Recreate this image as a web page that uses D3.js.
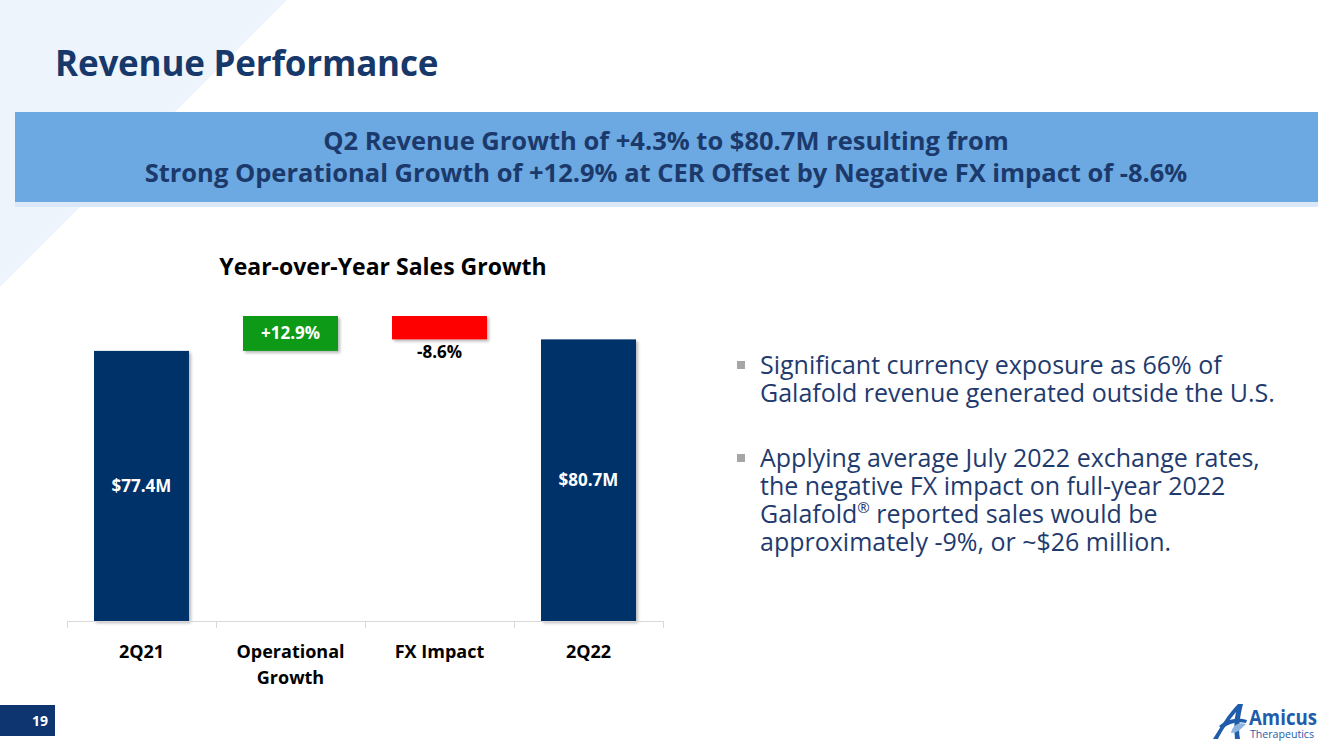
<!DOCTYPE html>
<html>
<head>
<meta charset="utf-8">
<script src="https://cdn.jsdelivr.net/npm/d3@7/dist/d3.min.js"></script>
<style>
  html, body { margin: 0; padding: 0; background: #fff; }
  svg { display: block; }
  text { font-family: "Open Sans", "Noto Sans", sans-serif; }
</style>
</head>
<body>
<script>
// ---------- data ----------
const categories = ["2Q21", "Operational\nGrowth", "FX Impact", "2Q22"];
const stepStart  = [0, 77.4, 87.4, 0];
const stepEnd    = [77.4, 87.4, 80.7, 80.7];
const barLabels  = ["$77.4M", "+12.9%", "-8.6%", "$80.7M"];
const barKinds   = ["total", "up", "down", "total"];

const titleText = "Revenue Performance";
const bannerLines = [
  "Q2 Revenue Growth of +4.3% to $80.7M resulting from",
  "Strong Operational Growth of +12.9% at CER Offset by Negative FX impact of -8.6%"
];
const chartTitle = "Year-over-Year Sales Growth";
const bullets = [
  ["Significant currency exposure as 66% of", "Galafold revenue generated outside the U.S."],
  ["Applying average July 2022 exchange rates,", "the negative FX impact on full-year 2022", "Galafold\u00AE reported sales would be", "approximately -9%, or ~$26 million."]
];

// ---------- setup ----------
const W = 1333, H = 750;
const svg = d3.select("body").append("svg").attr("width", W).attr("height", H);
const defs = svg.append("defs");
const f = defs.append("filter").attr("id", "shadow").attr("x", "-20%").attr("y", "-20%").attr("width", "150%").attr("height", "150%");
f.append("feDropShadow").attr("dx", 2).attr("dy", 2).attr("stdDeviation", 1.5).attr("flood-color", "#000").attr("flood-opacity", 0.28);

const navy = "#17386B";

// background triangle
svg.append("polygon").attr("points", "0,0 287,0 0,287").attr("fill", "#EEF4FB");

// title
svg.append("text").attr("x", 55).attr("y", 76).attr("font-size", 35).attr("font-weight", 700)
  .attr("fill", navy).attr("letter-spacing", -0.2).text(titleText);

// banner
svg.append("rect").attr("x", 15).attr("y", 201).attr("width", 1303).attr("height", 6).attr("fill", "#DAE8F7");
svg.append("rect").attr("x", 15).attr("y", 112).attr("width", 1303).attr("height", 90).attr("fill", "#6CA8E1");
bannerLines.forEach((t, i) => {
  svg.append("text").attr("x", 666).attr("y", 150 + i * 32).attr("text-anchor", "middle")
    .attr("font-size", 25.5).attr("font-weight", 700).attr("fill", "#1B3A6B").text(t);
});

// ---------- chart ----------
const x = d3.scaleBand().domain(categories).range([67, 663]).paddingInner(0.3624).paddingOuter(0.1812);
const y = d3.scaleLinear().domain([0, 87.4]).range([621, 316]);

const g = svg.append("g");
svg.append("text").attr("x", 383).attr("y", 275).attr("text-anchor", "middle")
  .attr("font-size", 23).attr("font-weight", 700).attr("fill", "#000").text(chartTitle);

const colorOf = k => k === "total" ? "#00336B" : k === "up" ? "#0E9A14" : "#FF0000";

const data = categories.map((c, i) => ({ c, s: stepStart[i], e: stepEnd[i], label: barLabels[i], kind: barKinds[i] }));

g.selectAll("rect.bar").data(data).join("rect").attr("class", "bar")
  .attr("x", d => x(d.c)).attr("width", x.bandwidth())
  .attr("y", d => y(Math.max(d.s, d.e)))
  .attr("height", d => Math.abs(y(d.s) - y(d.e)))
  .attr("fill", d => colorOf(d.kind))
  .attr("filter", "url(#shadow)");

// labels
g.selectAll("text.lbl").data(data).join("text").attr("class", "lbl")
  .attr("x", d => x(d.c) + x.bandwidth() / 2)
  .attr("y", d => {
    if (d.kind === "down") return y(Math.min(d.s, d.e)) + 19;
    return (y(d.s) + y(d.e)) / 2 + 6;
  })
  .attr("text-anchor", "middle").attr("font-size", 17).attr("font-weight", 700)
  .attr("fill", d => d.kind === "down" ? "#000" : "#fff")
  .text(d => d.label);

// axis
const axisY = y(0);
g.append("line").attr("x1", 67).attr("x2", 663).attr("y1", axisY + 0.5).attr("y2", axisY + 0.5)
  .attr("stroke", "#D9D9D9").attr("stroke-width", 1);
const bounds = categories.map(c => x(c) - x.step() * x.paddingInner() / 2);
bounds.push(663);
bounds[0] = 67;
g.selectAll("line.tk").data(bounds).join("line").attr("class", "tk")
  .attr("x1", d => d + 0.5).attr("x2", d => d + 0.5).attr("y1", axisY).attr("y2", axisY + 7)
  .attr("stroke", "#D9D9D9");

const xAxis = g.append("g").attr("transform", `translate(0,${axisY})`)
  .call(d3.axisBottom(x).tickSize(0).tickPadding(0).tickFormat(""));
xAxis.select(".domain").remove();
xAxis.selectAll(".tick").each(function(d) {
  const t = d3.select(this).append("text").attr("fill", "#000").attr("font-size", 18).attr("font-weight", 700)
    .attr("text-anchor", "middle").attr("font-family", "'Open Sans', sans-serif");
  d.split("\n").forEach((line, i) => {
    t.append("tspan").attr("x", 0).attr("y", 37 + i * 26).text(line);
  });
});

// ---------- bullets ----------
let by = 374;
bullets.forEach((b, bi) => {
  if (bi > 0) by += 65;
  svg.append("rect").attr("x", 737).attr("y", by - 13).attr("width", 8).attr("height", 8).attr("fill", "#A6A6A6");
  b.forEach((line, li) => {
    if (li > 0) by += 28;
    const t = svg.append("text").attr("x", 760).attr("y", by).attr("font-size", 25).attr("fill", "#1F3B6E");
    if (line.includes("\u00AE")) {
      const parts = line.split("\u00AE");
      t.append("tspan").text(parts[0]);
      t.append("tspan").attr("font-size", 15).attr("dy", -10).text("\u00AE");
      t.append("tspan").attr("dy", 10).text(" " + parts[1].trim());
    } else t.text(line);
  });
});

// ---------- footer ----------
svg.append("rect").attr("x", 0).attr("y", 705).attr("width", 55).attr("height", 31).attr("fill", "#0E3570");
svg.append("text").attr("x", 48).attr("y", 726).attr("text-anchor", "end").attr("font-size", 14)
  .attr("font-weight", 700).attr("fill", "#fff").text("19");

// logo
const logo = svg.append("g").attr("fill", "#1F5CA9");
logo.append("path").attr("d", "M1213,739 C1220,728 1228,714 1238,704 L1243,704 C1240,716 1238,728 1240,739 L1235,739 C1234,730 1234,720 1236,712 C1229,720 1222,731 1218,739 Z");
logo.append("path").attr("d", "M1219,726 C1226,719 1238,717 1247,720 L1246,723 C1238,721 1229,723 1222,729 Z");
logo.append("path").attr("d", "M1231,733 C1233,724 1240,722 1246,724 C1242,728 1238,733 1231,733 Z").attr("fill", "#8DB3DE");
logo.append("text").attr("x", 1249).attr("y", 725).attr("font-family", "'Liberation Serif', serif")
  .attr("font-size", 22).attr("font-weight", 700).attr("fill", "#1F5CA9")
  .attr("textLength", 68).attr("lengthAdjust", "spacingAndGlyphs").text("Amicus");
logo.append("text").attr("x", 1250).attr("y", 738).attr("font-family", "'Liberation Sans', sans-serif")
  .attr("font-size", 10).attr("fill", "#1F5CA9")
  .attr("textLength", 64).attr("lengthAdjust", "spacingAndGlyphs").text("Therapeutics");
</script>
</body>
</html>
